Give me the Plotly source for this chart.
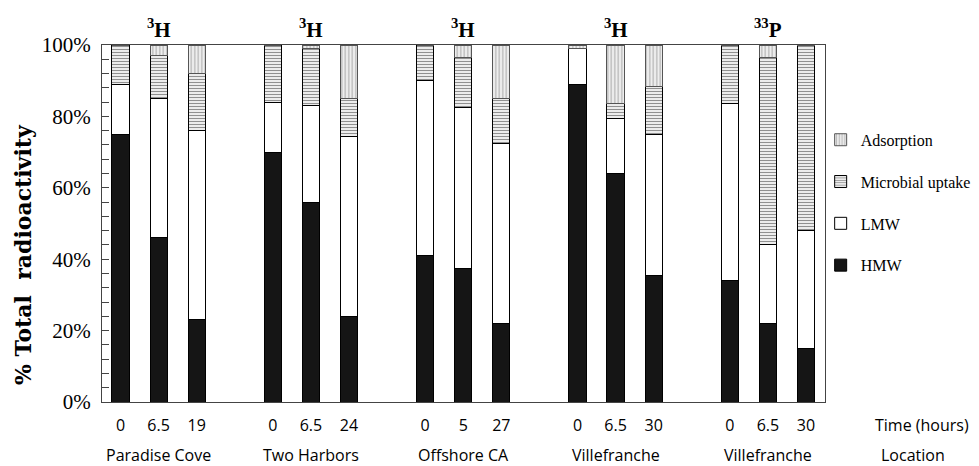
import plotly.graph_objects as go

locations = ["Paradise Cove", "Two Harbors", "Offshore CA", "Villefranche", "Villefranche"]
isotopes = ["<sup>3</sup>H", "<sup>3</sup>H", "<sup>3</sup>H", "<sup>3</sup>H", "<sup>33</sup>P"]
times = ["0", "6.5", "19", "0", "6.5", "24", "0", "5", "27", "0", "6.5", "30", "0", "6.5", "30"]
group_of_bar = [0, 0, 0, 1, 1, 1, 2, 2, 2, 3, 3, 3, 4, 4, 4]

hmw = [75, 46, 23, 70, 56, 24, 41, 37.5, 22, 89, 64, 35.5, 34, 22, 15]
lmw = [14, 39, 53, 14, 27, 50.5, 49, 45, 50.5, 10, 15.5, 39.5, 49.5, 22, 33]
microbial = [11, 12, 16, 16, 16, 10.5, 10, 14, 12.5, 0, 4, 13.5, 16.5, 52.5, 52]
adsorption = [0, 3, 8, 0, 1, 15, 0, 3.5, 15, 1, 16.5, 11.5, 0, 3.5, 0]

# bar positions: three bars per group with a one-slot gap between groups
xpos = [g * 4 + i % 3 for i, g in enumerate(group_of_bar)]

serif = "Liberation Serif"
sans = "Open Sans"

fig = go.Figure()
fig.add_trace(go.Bar(name="HMW", y=hmw, marker=dict(color="#151515", line=dict(color="black", width=1)),
                     width=0.45, x=xpos, legendgroup="a", legendrank=4))
fig.add_trace(go.Bar(name="LMW", y=lmw, marker=dict(color="white", line=dict(color="black", width=1)),
                     width=0.45, x=xpos, legendgroup="b", legendrank=3))
fig.add_trace(go.Bar(name="Microbial uptake", y=microbial,
                     marker=dict(color="white", line=dict(color="black", width=1),
                                 pattern=dict(shape="-", fgcolor="#222", bgcolor="white", size=3, solidity=0.45)),
                     width=0.45, x=xpos, legendgroup="c", legendrank=2))
fig.add_trace(go.Bar(name="Adsorption", y=adsorption,
                     marker=dict(color="white", line=dict(color="#555", width=1),
                                 pattern=dict(shape="|", fgcolor="#888", bgcolor="#eeeeee", size=3.5, solidity=0.4)),
                     width=0.45, x=xpos, legendgroup="d", legendrank=1))

# isotope labels over each group
for g in range(5):
    fig.add_annotation(x=g * 4 + 1, y=1.0, xref="x", yref="paper", yshift=1, yanchor="bottom",
                       xanchor="center",
                       text="<b>" + isotopes[g] + "</b>", showarrow=False,
                       font=dict(family=serif, size=21, color="black"))
    fig.add_annotation(x=g * 4 + 1, y=0, xref="x", yref="paper", yshift=-53, yanchor="middle",
                       xanchor="center",
                       text=locations[g], showarrow=False,
                       font=dict(family=sans, size=16, color="black"))

def px_x(p):
    return (p - 102) / 723

def px_y(p):
    return (402 - p) / 357

fig.add_annotation(x=px_x(922), y=0, xref="paper", yref="paper", text="Time (hours)", showarrow=False,
                   xanchor="center", font=dict(family=sans, size=16, color="black"), yshift=-23, yanchor="middle")
fig.add_annotation(x=px_x(913), y=0, xref="paper", yref="paper", text="Location", showarrow=False,
                   xanchor="center", font=dict(family=sans, size=16, color="black"), yshift=-53, yanchor="middle")
fig.add_annotation(x=px_x(23), y=px_y(255), xref="paper", yref="paper", text="<b>% Total  radioactivity</b>",
                   xanchor="center", yanchor="middle",
                   textangle=-90, showarrow=False, font=dict(family="DejaVu Serif", size=22, color="black"))

fig.update_layout(
    barmode="stack",
    width=979, height=466,
    margin=dict(l=102, r=154, t=45, b=64, autoexpand=False),
    paper_bgcolor="white", plot_bgcolor="white",
    showlegend=True,
    legend=dict(traceorder="grouped", tracegroupgap=18, x=0.994, xanchor="left",
                y=0.782, yanchor="top", font=dict(family=serif, size=16, color="black"),
                bgcolor="rgba(0,0,0,0)"),
    xaxis=dict(range=[-0.486, 18.5], tickmode="array", tickvals=xpos, ticktext=times,
               ticks="", showline=True, linecolor="#444", linewidth=1, mirror=True,
               ticklabelstandoff=9,
               tickfont=dict(family=sans, size=16, color="black"), showgrid=False, zeroline=False),
    yaxis=dict(range=[0, 100], tickvals=[0, 20, 40, 60, 80, 100],
               ticktext=["0%", "20%", "40%", "60%", "80%", "100%"],
               ticks="inside", ticklen=7, tickcolor="#444", showline=True, linecolor="#444",
               linewidth=1, mirror=True, showgrid=False, zeroline=False,
               ticklabelstandoff=6,
               minor=dict(dtick=4, ticks="inside", ticklen=7, tickcolor="#444"),
               tickfont=dict(family=serif, size=21, color="black")),
)

fig.write_html("out.html")
